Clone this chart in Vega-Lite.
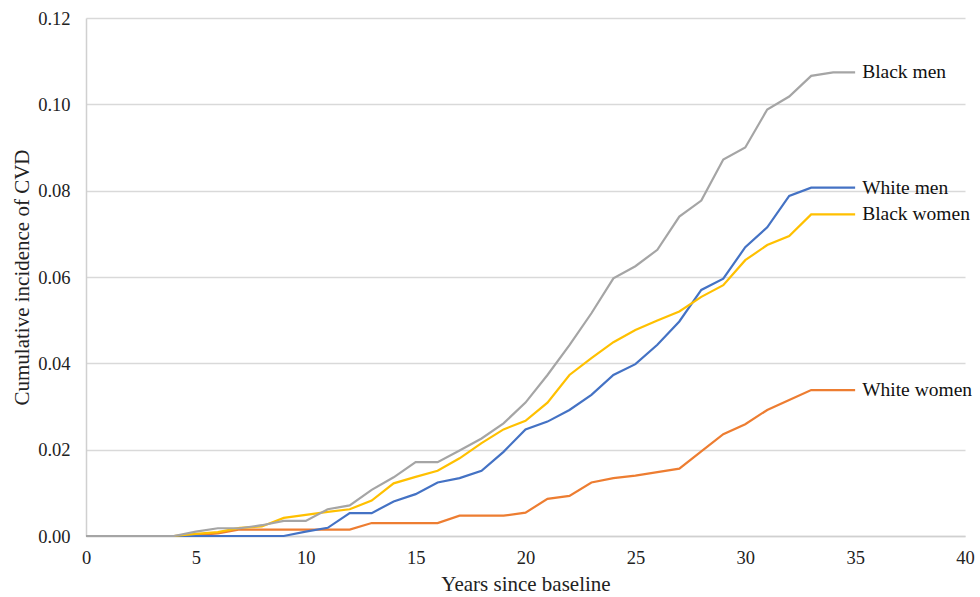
{
  "$schema": "https://vega.github.io/schema/vega-lite/v6.json",
  "width": 879,
  "height": 518,
  "autosize": "none",
  "padding": {"left": 86, "top": 18, "right": 15, "bottom": 61},
  "background": "white",
  "config": {
    "view": {"stroke": null},
    "font": "Liberation Serif",
    "axis": {"labelFont": "Liberation Serif", "titleFont": "Liberation Serif", "labelColor": "#222", "titleColor": "#222", "titleFontWeight": "normal"}
  },
  "data": {
    "values": [
      {"year": 0, "Black men": 0, "White men": 0, "Black women": 0, "White women": 0},
      {"year": 1, "Black men": 0, "White men": 0, "Black women": 0, "White women": 0},
      {"year": 2, "Black men": 0, "White men": 0, "Black women": 0, "White women": 0},
      {"year": 3, "Black men": 0, "White men": 0, "Black women": 0, "White women": 0},
      {"year": 4, "Black men": 0, "White men": 0, "Black women": 0, "White women": 0},
      {"year": 5, "Black men": 0.001, "White men": 0, "Black women": 0.0005, "White women": 0.0002},
      {"year": 6, "Black men": 0.0018, "White men": 0, "Black women": 0.0009, "White women": 0.0006},
      {"year": 7, "Black men": 0.0018, "White men": 0, "Black women": 0.0019, "White women": 0.0015},
      {"year": 8, "Black men": 0.0025, "White men": 0, "Black women": 0.0022, "White women": 0.0015},
      {"year": 9, "Black men": 0.0035, "White men": 0, "Black women": 0.0042, "White women": 0.0015},
      {"year": 10, "Black men": 0.0035, "White men": 0.001, "Black women": 0.0049, "White women": 0.0015},
      {"year": 11, "Black men": 0.0062, "White men": 0.0019, "Black women": 0.0056, "White women": 0.0015},
      {"year": 12, "Black men": 0.0071, "White men": 0.0053, "Black women": 0.0062, "White women": 0.0015},
      {"year": 13, "Black men": 0.0107, "White men": 0.0053, "Black women": 0.0082, "White women": 0.003},
      {"year": 14, "Black men": 0.0136, "White men": 0.008, "Black women": 0.0122, "White women": 0.003},
      {"year": 15, "Black men": 0.0171, "White men": 0.0097, "Black women": 0.0137, "White women": 0.003},
      {"year": 16, "Black men": 0.0171, "White men": 0.0124, "Black women": 0.0151, "White women": 0.003},
      {"year": 17, "Black men": 0.0198, "White men": 0.0134, "Black women": 0.018, "White women": 0.0047},
      {"year": 18, "Black men": 0.0226, "White men": 0.0151, "Black women": 0.0215, "White women": 0.0047},
      {"year": 19, "Black men": 0.0261, "White men": 0.0195, "Black women": 0.0247, "White women": 0.0047},
      {"year": 20, "Black men": 0.0309, "White men": 0.0247, "Black women": 0.0267, "White women": 0.0054},
      {"year": 21, "Black men": 0.0373, "White men": 0.0265, "Black women": 0.0309, "White women": 0.0086},
      {"year": 22, "Black men": 0.0442, "White men": 0.0292, "Black women": 0.0373, "White women": 0.0093},
      {"year": 23, "Black men": 0.0516, "White men": 0.0327, "Black women": 0.0412, "White women": 0.0124},
      {"year": 24, "Black men": 0.0597, "White men": 0.0373, "Black women": 0.0449, "White women": 0.0134},
      {"year": 25, "Black men": 0.0625, "White men": 0.0398, "Black women": 0.0477, "White women": 0.014},
      {"year": 26, "Black men": 0.0663, "White men": 0.0443, "Black women": 0.0499, "White women": 0.0148},
      {"year": 27, "Black men": 0.074, "White men": 0.0497, "Black women": 0.052, "White women": 0.0156},
      {"year": 28, "Black men": 0.0777, "White men": 0.057, "Black women": 0.0554, "White women": 0.0196},
      {"year": 29, "Black men": 0.0872, "White men": 0.0596, "Black women": 0.0581, "White women": 0.0236},
      {"year": 30, "Black men": 0.09, "White men": 0.0669, "Black women": 0.0639, "White women": 0.0259},
      {"year": 31, "Black men": 0.0988, "White men": 0.0715, "Black women": 0.0674, "White women": 0.0292},
      {"year": 32, "Black men": 0.1018, "White men": 0.0788, "Black women": 0.0695, "White women": 0.0315},
      {"year": 33, "Black men": 0.1066, "White men": 0.0807, "Black women": 0.0745, "White women": 0.0338},
      {"year": 34, "Black men": 0.1074, "White men": 0.0807, "Black women": 0.0745, "White women": 0.0338},
      {"year": 35, "Black men": 0.1074, "White men": 0.0807, "Black women": 0.0745, "White women": 0.0338}
    ]
  },
  "transform": [
    {"fold": ["White women", "White men", "Black women", "Black men"], "as": ["group", "value"]}
  ],
  "encoding": {
    "x": {
      "field": "year", "type": "quantitative",
      "scale": {"domain": [0, 40], "nice": false},
      "axis": {"values": [0, 5, 10, 15, 20, 25, 30, 35, 40], "title": "Years since baseline", "titleFont": "Liberation Serif", "titleFontSize": 21, "titlePadding": 7, "labelFont": "Liberation Serif", "labelFontSize": 18.5, "labelPadding": 12, "labelFlush": false, "ticks": false, "grid": false, "domainColor": "#d0d0d0", "domainWidth": 1.5}
    },
    "y": {
      "field": "value", "type": "quantitative",
      "scale": {"domain": [0, 0.12], "nice": false},
      "axis": {"values": [0, 0.02, 0.04, 0.06, 0.08, 0.1, 0.12], "format": ".2f", "title": "Cumulative incidence of CVD", "titleFont": "Liberation Serif", "titleFontSize": 21, "titlePadding": 5, "labelFont": "Liberation Serif", "labelFontSize": 18.5, "labelPadding": 16, "labelFlush": false, "ticks": false, "grid": true, "gridColor": "#d9d9d9", "gridWidth": 1.5, "domainColor": "#d0d0d0", "domainWidth": 1.5}
    }
  },
  "layer": [
    {
      "mark": {"type": "line", "strokeWidth": 2.2},
      "encoding": {
        "color": {
          "field": "group", "type": "nominal",
          "scale": {"domain": ["White women", "White men", "Black women", "Black men"], "range": ["#ED7D31", "#4472C4", "#FFC000", "#A5A5A5"]},
          "legend": null
        },
        "order": {"field": "year"}
      }
    },
    {
      "transform": [{"filter": "datum.year == 35"}],
      "mark": {"type": "text", "align": "left", "baseline": "middle", "dx": 7, "fontSize": 19.5, "font": "Liberation Serif", "color": "#111"},
      "encoding": {"text": {"field": "group"}}
    }
  ]
}
